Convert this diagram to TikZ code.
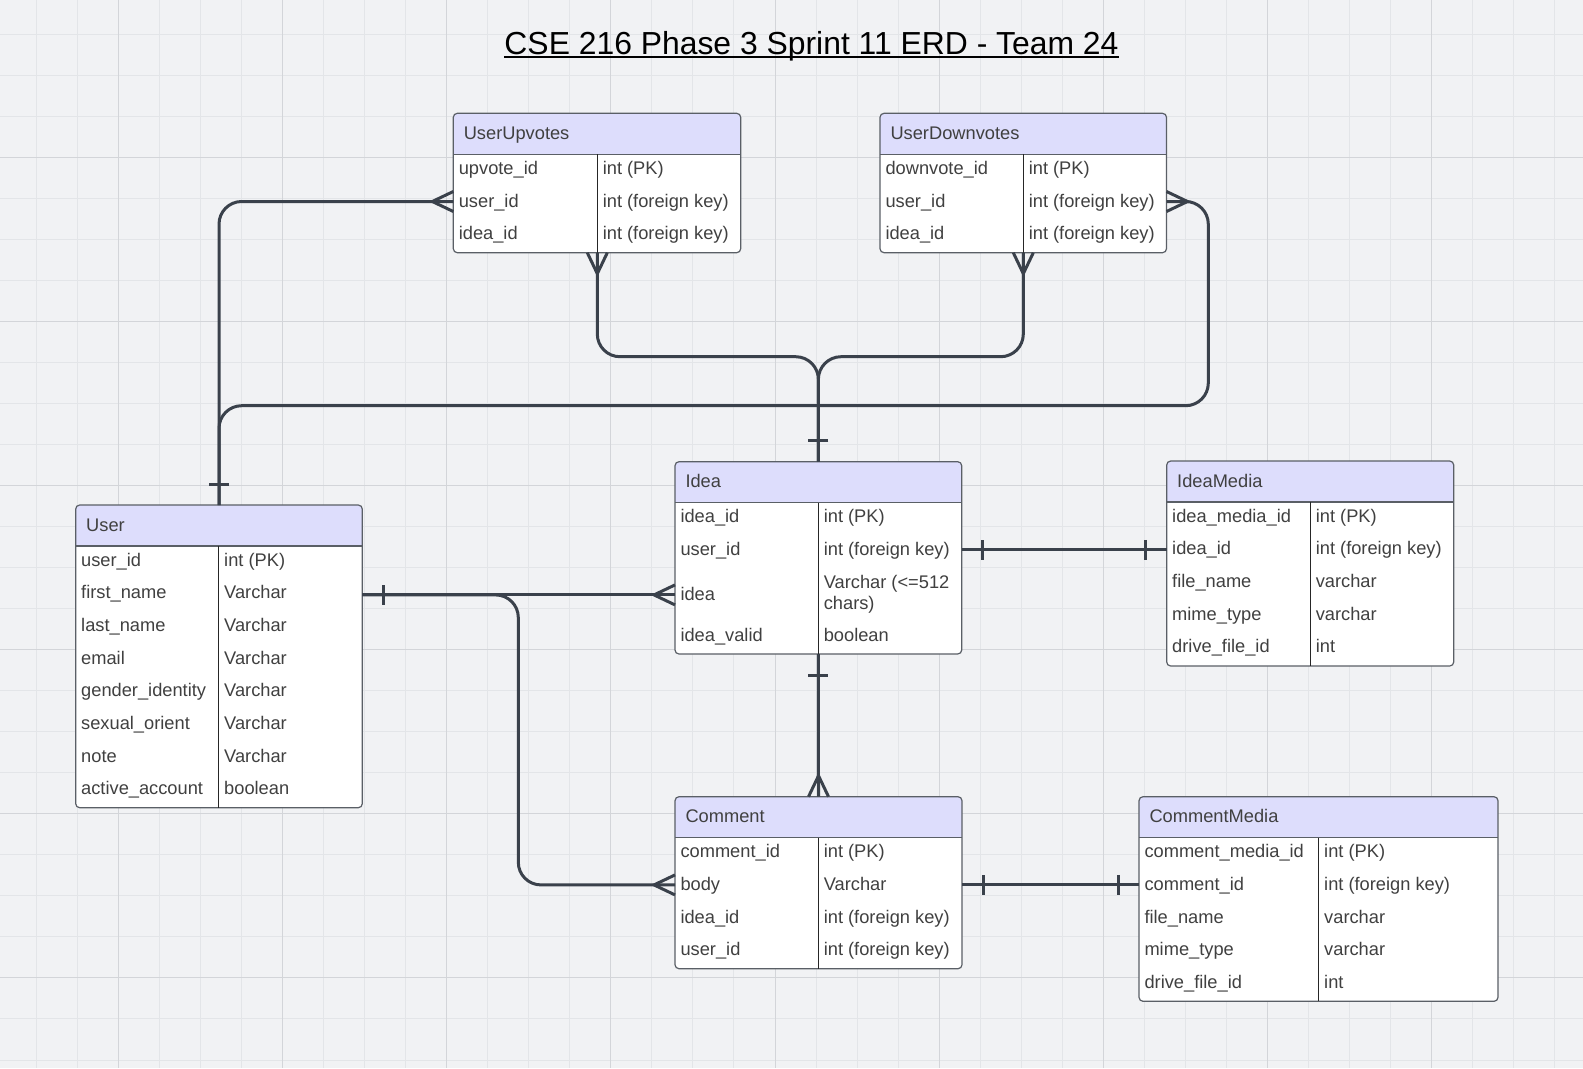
\documentclass[tikz,border=0pt]{standalone}
\usepackage{fontspec}
\setmainfont{Liberation Sans}
\usetikzlibrary{calc}
\definecolor{bgc}{RGB}{241,242,244}
\definecolor{gminor}{RGB}{227,229,232}
\definecolor{gmajor}{RGB}{211,213,217}
\definecolor{hdrc}{RGB}{221,221,252}
\definecolor{linec}{RGB}{58,65,75}
\definecolor{tborder}{RGB}{90,95,102}
\definecolor{txtc}{RGB}{64,64,64}

\tikzset{
 tbl/.style={draw=tborder, line width=0.9pt, fill=white, rounded corners=3pt, inner sep=0pt, outer sep=0pt, anchor=north west},
 fld/.style={anchor=west, inner sep=0pt, outer sep=0pt, text=txtc, font=\fontsize{13.7}{16.4}\selectfont, text height=10.5pt, text depth=2.25pt},
 conn/.style={draw=linec, line width=2.25pt, rounded corners=17pt},
 foot/.style={draw=linec, line width=2.25pt},
 tline/.style={draw=tborder, line width=0.9pt},
 dline/.style={draw=black!85, line width=0.9pt},
 gridmin/.style={draw=gminor, line width=0.75pt},
 gridmaj/.style={draw=gmajor, line width=0.75pt},
}

\newcommand{\erdtab}[7]{%
 \node[tbl, minimum width={#4*0.75pt}, minimum height={#5*0.75pt},
   path picture={\fill[hdrc, sharp corners] (path picture bounding box.north west) rectangle ([yshift=-30.75pt]path picture bounding box.north east);}] (#1) at (#2,#3) {};
 \draw[tline] ($(#1.north west)+(0,41)$) -- ($(#1.north east)+(0,41)$);
 \coordinate (#1-div) at ($(#1.north west)+(#6,41)$);
 \draw[dline] (#1-div) -- (#1-div |- #1.south);
 \node[fld] (#1-t) at ($(#1.north west)+(10.5,20.5)$) {#7};
}
\newcommand{\frow}[5]{%
 \node[fld] (#1-#2-k) at ($(#1.north west)+(5.5,{41+#3})$) {#4};
 \node[fld] (#1-#2-v) at ($(#1-div)+(5.5,#3)$) {#5};
}
\newcommand{\crow}[2]{\begin{scope}[shift={#1}, rotate=#2]\draw[foot] (0,10) -- (21,0) -- (0,-10);\end{scope}}
\newcommand{\onebar}[2]{\begin{scope}[shift={#1}, rotate=#2]\draw[foot] (21,10) -- (21,-10);\end{scope}}

\begin{document}
\begin{tikzpicture}[x=0.75pt, y=-0.75pt]
\useasboundingbox (0,0) rectangle (1583,1068);
\fill[bgc] (0,0) rectangle (1583,1068);
\foreach \k in {0,...,38} \draw[gridmin] ({36.3+41.04*\k},0) -- ({36.3+41.04*\k},1068);
\foreach \k in {0,...,25} \draw[gridmin] (0,{34+41.04*\k}) -- (1583,{34+41.04*\k});
\foreach \k in {2,6,...,38} \draw[gridmaj] ({36.3+41.04*\k},0) -- ({36.3+41.04*\k},1068);
\foreach \k in {3,7,...,23} \draw[gridmaj] (0,{34+41.04*\k}) -- (1583,{34+41.04*\k});

% title
\node[inner sep=0pt, anchor=base, font=\fontsize{23.9}{28}\selectfont] (title) at (811.5,54.3) {CSE 216 Phase 3 Sprint 11 ERD - Team 24};
\draw[line width=1.5pt] ([yshift=-2pt]title.base west) -- ([yshift=-2pt]title.base east);

% tables
\erdtab{uu}{453.3}{113.3}{287.4}{139.4}{144}{UserUpvotes}
\frow{uu}{1}{14.5}{upvote\_id}{int (PK)}
\frow{uu}{2}{47.2}{user\_id}{int (foreign key)}
\frow{uu}{3}{79.9}{idea\_id}{int (foreign key)}

\erdtab{ud}{880}{113.3}{286.5}{139.4}{143.3}{UserDownvotes}
\frow{ud}{1}{14.5}{downvote\_id}{int (PK)}
\frow{ud}{2}{47.2}{user\_id}{int (foreign key)}
\frow{ud}{3}{79.9}{idea\_id}{int (foreign key)}

\erdtab{user}{75.7}{505}{286.6}{302.7}{143}{User}
\frow{user}{1}{14.5}{user\_id}{int (PK)}
\frow{user}{2}{47.2}{first\_name}{Varchar}
\frow{user}{3}{79.9}{last\_name}{Varchar}
\frow{user}{4}{112.6}{email}{Varchar}
\frow{user}{5}{145.3}{gender\_identity}{Varchar}
\frow{user}{6}{178}{sexual\_orient}{Varchar}
\frow{user}{7}{210.7}{note}{Varchar}
\frow{user}{8}{243.4}{active\_account}{boolean}

\erdtab{idea}{675}{461.7}{286.7}{192.3}{143.3}{Idea}
\frow{idea}{1}{14.5}{idea\_id}{int (PK)}
\frow{idea}{2}{47.2}{user\_id}{int (foreign key)}
\node[fld] (idea-3-k) at ($(idea.north west)+(5.5,{41+92.2})$) {idea};
\node[fld] (idea-3-v) at ($(idea-div)+(5.5,80.5)$) {Varchar (<=512};
\node[fld] (idea-3-w) at ($(idea-div)+(5.5,101.5)$) {chars)};
\frow{idea}{4}{133.5}{idea\_valid}{boolean}

\erdtab{im}{1166.7}{461}{287}{205}{143.6}{IdeaMedia}
\frow{im}{1}{14.5}{idea\_media\_id}{int (PK)}
\frow{im}{2}{47.2}{idea\_id}{int (foreign key)}
\frow{im}{3}{79.9}{file\_name}{varchar}
\frow{im}{4}{112.6}{mime\_type}{varchar}
\frow{im}{5}{145.3}{drive\_file\_id}{int}

\erdtab{cm}{675}{796.7}{287}{172}{143.3}{Comment}
\frow{cm}{1}{14.5}{comment\_id}{int (PK)}
\frow{cm}{2}{47.2}{body}{Varchar}
\frow{cm}{3}{79.9}{idea\_id}{int (foreign key)}
\frow{cm}{4}{112.6}{user\_id}{int (foreign key)}

\erdtab{cmm}{1139}{796.7}{359}{204.6}{179.7}{CommentMedia}
\frow{cmm}{1}{14.5}{comment\_media\_id}{int (PK)}
\frow{cmm}{2}{47.2}{comment\_id}{int (foreign key)}
\frow{cmm}{3}{79.9}{file\_name}{varchar}
\frow{cmm}{4}{112.6}{mime\_type}{varchar}
\frow{cmm}{5}{145.3}{drive\_file\_id}{int}

% bus coordinates
\coordinate (busTop) at (0,356.7);
\coordinate (busMid) at (1208.3,405.7);
\coordinate (busLeft) at (518.3,740);

% connectors
\draw[conn] (user.north) |- (uu.west |- uu-2-k);
\draw[conn] (user.north) |- (busMid) |- (ud.east |- ud-2-k);
\draw[conn] (idea.north) |- (uu-div |- busTop) -- (uu-div |- uu.south);
\draw[conn] (idea.north) |- (ud-div |- busTop) -- (ud-div |- ud.south);
\draw[conn] (user.east |- idea-3-k) -- (idea.west |- idea-3-k);
\draw[conn] (user.east |- idea-3-k) -| (busLeft) |- (cm.west |- cm-2-k);
\draw[conn] (idea.south) -- (cm.north);
\draw[conn] (idea.east |- idea-2-k) -- (im.west |- idea-2-k);
\draw[conn] (cm.east |- cm-2-k) -- (cmm.west |- cm-2-k);

% crow feet (many)
\crow{(uu.west |- uu-2-k)}{180}
\crow{(ud.east |- ud-2-k)}{0}
\crow{(uu-div |- uu.south)}{-90}
\crow{(ud-div |- ud.south)}{-90}
\crow{(idea.west |- idea-3-k)}{180}
\crow{(cm.west |- cm-2-k)}{180}
\crow{(cm.north)}{90}

% bars (one)
\onebar{(user.north)}{90}
\onebar{(idea.north)}{90}
\onebar{(user.east |- idea-3-k)}{0}
\onebar{(idea.east |- idea-2-k)}{0}
\onebar{(im.west |- idea-2-k)}{180}
\onebar{(idea.south)}{-90}
\onebar{(cm.east |- cm-2-k)}{0}
\onebar{(cmm.west |- cm-2-k)}{180}
\end{tikzpicture}
\end{document}
